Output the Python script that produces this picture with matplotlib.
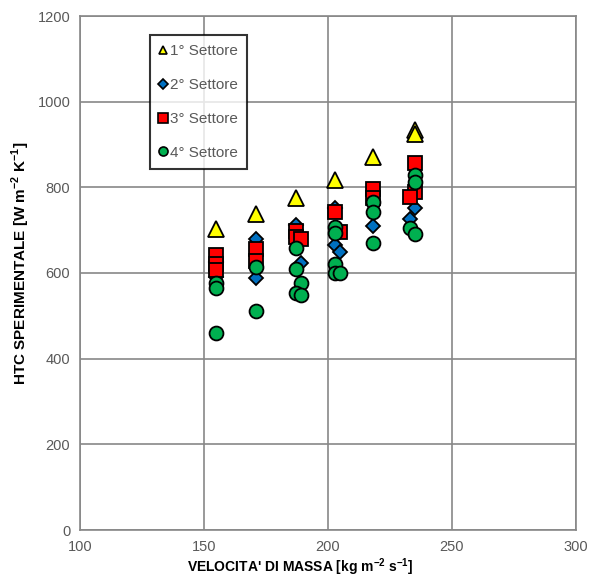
import matplotlib
matplotlib.use("Agg")
import matplotlib.pyplot as plt

plt.rcParams['font.family'] = ['Liberation Sans', 'DejaVu Sans']

# Sector measurements: mass velocity [kg m-2 s-1] vs experimental HTC [W m-2 K-1]
s1_x = [155, 171, 187, 203, 218, 235, 235]
s1_y = [703, 738, 775, 817, 870, 934, 925]

s2_x = [155, 155, 171, 171, 187, 189, 203, 203, 205, 218, 235, 233]
s2_y = [625, 590, 680, 588, 712, 623, 752, 665, 649, 710, 752, 725]

s3_x = [155, 155, 155, 171, 171, 187, 187, 189, 203, 205, 218, 218, 235, 235, 233]
s3_y = [643, 620, 607, 657, 628, 698, 685, 680, 742, 696, 796, 775, 857, 789, 777]

s4_x = [155, 155, 155, 171, 171, 187, 187, 189, 187, 189, 203, 203, 203, 203, 205,
        218, 218, 218, 235, 235, 233, 235]
s4_y = [577, 565, 460, 614, 512, 658, 610, 577, 553, 549, 707, 693, 621, 600, 600,
        766, 742, 670, 829, 813, 705, 691]

labels = ["1° Settore", "2° Settore", "3° Settore", "4° Settore"]
x_ticks = [100, 150, 200, 250, 300]
y_ticks = [0, 200, 400, 600, 800, 1000, 1200]

fig = plt.figure(figsize=(5.9, 5.78), dpi=100)
ax = fig.add_axes([80 / 590, 48 / 578, 496 / 590, 514 / 578])

grid_c = "#878787"
ax.set_axisbelow(True)
ax.grid(True, color=grid_c, linewidth=1.2)
for sp in ax.spines.values():
    sp.set_color(grid_c)
    sp.set_linewidth(1.2)

series = [
    (s1_x, s1_y, "^", "#FFFF00", 11),
    (s2_x, s2_y, "D", "#0070C0", 7.5),
    (s3_x, s3_y, "s", "#FF0000", 9.5),
    (s4_x, s4_y, "o", "#00B050", 10),
]
for (xs, ys, m, c, size), lab in zip(series, labels):
    ax.plot(xs, ys, linestyle="none", marker=m, markersize=size,
            markerfacecolor=c, markeredgecolor="black", markeredgewidth=1.3,
            label=lab)

ax.set_xlim(100, 300)
ax.set_ylim(0, 1200)
ax.set_xticks(x_ticks)
ax.set_yticks(y_ticks)
ax.tick_params(length=0, labelsize=10.5, labelcolor="#595959", pad=7)

ax.set_xlabel("VELOCITA' DI MASSA [kg m$^{\\mathregular{-2}}$ s$^{\\mathregular{-1}}$]",
              fontsize=10, fontweight="bold")
ax.xaxis.set_label_coords(0.4435, -0.072)
ax.xaxis.label.set_verticalalignment("center")
ax.set_ylabel("HTC SPERIMENTALE [W m$^{\\mathregular{-2}}$ K$^{\\mathregular{-1}}$]",
              fontsize=11, fontweight="bold")
ax.yaxis.set_label_coords(-0.119, 0.519)
ax.yaxis.label.set_verticalalignment("center")

handles, labs = ax.get_legend_handles_labels()
leg_sizes = [6, 5, 6.5, 6.5]
leg = ax.legend(handles, labs, loc="upper left", bbox_to_anchor=(0.141, 0.963),
                frameon=True, fancybox=False, edgecolor="black", fontsize=11,
                labelspacing=1.3, handlelength=0.5, handletextpad=0.2,
                borderpad=0.6, borderaxespad=0)
leg.get_frame().set_linewidth(1.5)
for h, s in zip(leg.legend_handles, leg_sizes):
    h.set_markersize(s)
    h.set_markeredgewidth(1.2)
for t in leg.get_texts():
    t.set_color("#595959")

fig.savefig("out.png", dpi=100)
